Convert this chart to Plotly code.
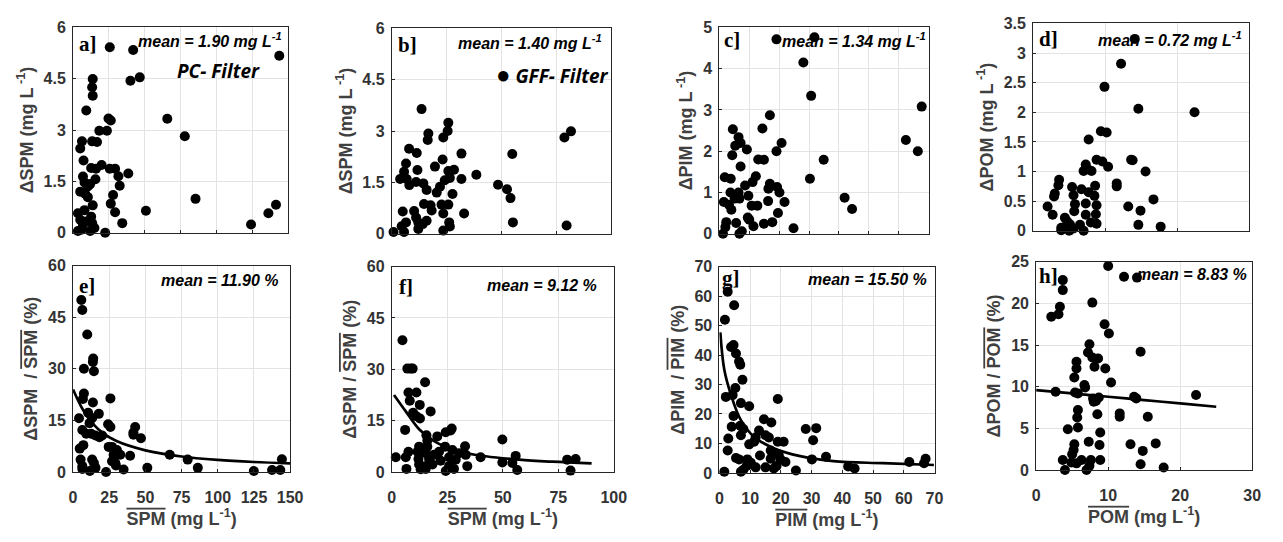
import plotly.graph_objects as go

W, H = 1283, 542

# ---------------- data ----------------
a_x = [25.6, 41.9, 143.8, 40, 46.5, 13.7, 13.3, 13.7, 9.2, 24.7, 26.3, 65.7, 77.9, 18.3, 23.6, 6.2, 5, 13.3, 16.7, 7.3,
       12.6, 19.9, 16, 25.6, 29.3, 31.6, 38.5, 6.9, 8, 11.9, 15.6, 10.3, 32.5, 5, 8.5, 10.3, 27.9, 85.4, 26.3, 136.2,
       141.5, 29.3, 50.8, 124.1, 34.3, 22.4, 3.4, 5, 3.4, 5.7, 8, 9.2, 11.9, 12.6, 13.3, 14.9, 6.9, 13.7]
a_y = [5.42, 5.34, 5.17, 4.44, 4.54, 4.49, 4.25, 4.0, 3.57, 3.34, 3.28, 3.33, 2.82, 2.98, 2.98, 2.67, 2.46, 2.67, 2.65, 2.11,
       1.89, 1.98, 1.87, 1.87, 1.87, 1.65, 1.73, 1.64, 1.47, 1.42, 1.56, 1.35, 1.37, 1.2, 1.13, 1.04, 1.1, 0.99, 0.85, 0.57,
       0.82, 0.6, 0.64, 0.24, 0.28, 0.0, 0.57, 0.38, 0.05, 0.09, 0.66, 0.33, 0.05, 0.47, 0.28, 0.14, 0.24, 0.8]

b_x = [13.6, 25.8, 25.5, 16.7, 16.4, 23.5, 78.8, 81.8, 7.9, 11.4, 6.5, 23.2, 31.8, 55, 19.7, 11.7, 5.6, 3.8, 6.8, 8.0,
       11.1, 14.4, 15.9, 25.8, 28.4, 26.5, 31.8, 38.6, 48.5, 52.6, 54.2, 20.5, 22, 24.2, 27.7, 14.7, 18.2, 17.7, 22.7, 25.8,
       23.5, 33, 5, 10.2, 11.1, 6.5, 5.6, 0.8, 12.1, 14.1, 12.1, 15.9, 23.5, 26.2, 26.5, 55.3, 79.8, 4.5]
b_y = [3.64, 3.24, 3.0, 2.93, 2.74, 2.81, 2.81, 2.99, 2.48, 2.36, 2.05, 2.17, 2.34, 2.33, 1.96, 1.86, 1.81, 1.6, 1.6, 1.42,
       1.51, 1.47, 1.28, 1.83, 1.87, 1.63, 1.6, 1.72, 1.43, 1.3, 1.04, 1.2, 1.37, 1.56, 1.16, 0.87, 0.68, 0.83, 0.85, 0.85,
       0.59, 0.59, 0.65, 0.66, 0.47, 0.33, 0.05, 0.05, 0.33, 0.28, 0.14, 0.38, 0.09, 0.33, 0.21, 0.33, 0.24, 0.22]

c_x = [19.1, 31.8, 28.1, 30.7, 67.7, 62.4, 66.4, 16.9, 14.4, 4.5, 6.4, 7.1, 5.3, 9.2, 20.8, 19.1, 4.3, 7.1, 13, 14.9,
       34.9, 1.8, 3.8, 12.2, 11.1, 8.6, 30.3, 16.9, 16.4, 19.3, 20.1, 3.7, 6.4, 9.7, 5.1, 1.5, 3.2, 4.0, 6.7, 16.3,
       21.8, 10.8, 12.7, 41.9, 44.4, 19.6, 9.5, 10, 11.4, 14.9, 17.7, 2.3, 2, 5.6, 1.2, 6.7, 7.5, 24.8]
c_y = [4.71, 4.76, 4.15, 3.34, 3.08, 2.27, 2.0, 2.87, 2.55, 2.53, 2.34, 2.2, 2.13, 2.04, 2.2, 2.0, 1.9, 1.63, 1.8, 1.79,
       1.79, 1.37, 1.33, 1.39, 1.25, 1.17, 1.33, 1.21, 1.09, 1.13, 1.0, 1.0, 1.0, 0.92, 0.85, 0.77, 0.7, 0.58, 0.85, 0.79,
       0.77, 0.68, 0.68, 0.87, 0.6, 0.5, 0.39, 0.34, 0.18, 0.24, 0.28, 0.28, 0.16, 0.26, 0.0, 0.0, 0.06, 0.13]

d_x = [14.1, 12.2, 9.9, 14.6, 22.4, 9.4, 10.2, 7.7, 8.8, 9.6, 10.4, 13.6, 13.8, 15.6, 7.3, 7.6, 7.0, 8.1, 11.6, 11.6,
       3.6, 3.5, 3.0, 2.9, 2.0, 2.7, 5.4, 5.6, 6.7, 7.7, 8.6, 8.5, 5.8, 5.7, 7.3, 8.8, 8.7, 8.8, 13.2, 14.9,
       16.7, 14.6, 17.7, 4.4, 3.9, 3.9, 5.1, 5.6, 6.5, 7.0, 7.3, 8.0, 5.0, 4.7]
d_y = [3.24, 2.82, 2.43, 2.06, 2.0, 1.68, 1.66, 1.54, 1.2, 1.17, 1.08, 1.2, 1.19, 1.0, 1.12, 1.04, 1.01, 1.01, 0.8, 0.75,
       0.86, 0.77, 0.63, 0.58, 0.41, 0.27, 0.74, 0.6, 0.7, 0.65, 0.76, 0.59, 0.45, 0.33, 0.46, 0.43, 0.28, 0.12, 0.41, 0.34,
       0.53, 0.1, 0.07, 0.22, 0.05, 0.01, 0.11, 0.04, 0.1, 0.0, 0.27, 0.14, 0.0, 0.16]

e_x = [5.7, 6.4, 9.8, 13.9, 13.7, 14.4, 7.5, 7.5, 6.8, 25.8, 13.7, 10.4, 17.8, 13.2, 4.1, 11.4, 24.2, 25.8, 42.9, 41.7,
       41.7, 46.9, 6.4, 9.1, 12.5, 15.5, 18.2, 20.1, 7.1, 4.6, 24.6, 26.9, 30.3, 32.6, 28.0, 66.8, 39.4, 79.2, 144.3, 5.2,
       13.2, 14.4, 26.9, 29.2, 29.6, 6.4, 11.6, 15.5, 22.8, 34.9, 51.3, 86.2, 124.9, 137.5, 143.2, 6.4]
e_y = [50, 47.1, 40, 33.0, 32, 29.3, 30, 22.8, 21.2, 21.4, 20.2, 17.2, 16.9, 15.7, 15.6, 14.2, 13.9, 13.1, 13.1, 11.5,
       10.8, 9.8, 12.2, 11.1, 11.1, 10.6, 10.1, 10.6, 7.8, 6.8, 7.3, 7.3, 6.4, 5.0, 5.0, 5.0, 4.7, 3.6, 3.7, 3.6,
       3.6, 2.6, 3.1, 2.6, 1.9, 0.9, 0.3, 1.2, 0.0, 0.7, 1.2, 1.2, 0.3, 0.6, 0.6, 1.7]
e_fit_x = [0, 5, 10, 20, 30, 50, 75, 100, 125, 150]
e_fit_y = [24, 19.5, 16, 11.5, 9, 6.3, 4.5, 3.5, 2.9, 2.5]

f_x = [4.8, 7, 8.5, 9.4, 15, 7.5, 11.1, 8.1, 12.6, 9.6, 17.5, 11.1, 12.7, 6, 26.5, 24.3, 27, 15.6, 20.5, 16,
       49.8, 16, 33, 12.3, 24, 21.3, 7.5, 11.6, 15.3, 19, 27.3, 30.3, 33.3, 40, 55.8, 1.8, 6.3, 12, 16.8, 22,
       25.8, 28.8, 79, 82.8, 49.8, 54.3, 12.3, 15, 18.3, 34, 6.6, 13, 15.3, 24.3, 28, 56.5, 80.5, 25.8]
f_y = [38.5, 30.2, 30.2, 30.2, 26.2, 23.2, 23.2, 20.8, 19.6, 17.3, 17.7, 16.3, 15.6, 12.3, 12.1, 11.6, 12.7, 10.7, 10.4, 9.1,
       9.5, 7.4, 7.5, 7.4, 7.4, 5.9, 5.9, 5.9, 5.5, 5, 6.4, 5.5, 5.0, 4.3, 4.7, 4.3, 4.3, 3.8, 3.8, 3.3,
       4.3, 3.6, 3.6, 3.8, 2.8, 2.6, 2.2, 1.7, 2.2, 1.7, 0.9, 0.8, 0.9, 0.3, 0.9, 0.6, 0.4, 1.7]
f_fit_x = [1, 6.3, 12.3, 19.8, 30.3, 42.3, 57.3, 72.3, 90]
f_fit_y = [22.5, 17.7, 12.5, 8.7, 6.0, 4.6, 3.6, 3.0, 2.5]

g_x = [2.7, 1.8, 4.8, 3.8, 4.6, 5.4, 6.4, 6.8, 7.5, 2.1, 4.3, 5.2, 7, 9.7, 19, 4.6, 4.0, 6.8, 7.8, 7.0,
       14.5, 16.9, 12.9, 15, 16.1, 9.7, 11.3, 11.8, 2.9, 2.7, 5.4, 6.4, 9.1, 10.2, 11.8, 13.2, 15, 16.7, 17.2, 16.7,
       19, 20.9, 19.3, 19.9, 21.5, 18.6, 17.7, 24.9, 28.1, 31.5, 30.5, 30.1, 34.7, 41.9, 44, 61.8, 66.6, 67.1, 1.6, 7,
       7.8, 8.9]
g_y = [61.5, 52, 56.9, 42.7, 43.4, 40.5, 37.8, 36.7, 31.6, 25.8, 26.4, 28.8, 23.7, 22.6, 25.1, 19.3, 15.7, 16, 14.9, 12.8,
       18.2, 17.1, 14.4, 12.8, 12.0, 9.7, 10.6, 12.0, 11.7, 7.6, 5.1, 4.6, 4.6, 3.5, 1.9, 5.9, 1.9, 7.6, 6.8, 4.8,
       10.6, 10.6, 6.2, 4.6, 3.7, 2.4, 1.5, 0.8, 14.9, 15.2, 11.1, 4.6, 5.5, 2.2, 1.5, 3.7, 3.3, 4.8, 0.4, 0.4,
       1.1, 2.4]
g_fit_x = [0.3, 1.6, 3.8, 7, 11.3, 17.7, 26.3, 37.1, 53.2, 69.8]
g_fit_y = [47.7, 35, 26.4, 17.9, 12.2, 8.4, 5.7, 4.0, 3.3, 2.7]

h_x = [10, 12.2, 14, 3.7, 3.7, 3.3, 3.1, 2.1, 7.8, 9.5, 10.1, 7.4, 7.2, 14.5, 7.8, 8.6, 5.6, 5.6, 8.1, 9.6,
       5.3, 10.4, 6.7, 6.8, 2.7, 5.4, 5.8, 22.2, 7.9, 8.7, 8.3, 8.0, 13.6, 13.9, 5.8, 5.7, 8.5, 11.6, 11.6, 15.5,
       5.8, 4.4, 8.9, 7.3, 8.8, 13.1, 16.6, 14.8, 5.3, 5.2, 5.0, 3.7, 4.9, 5.6, 6.3, 7.6, 7.4, 8.9, 14.5, 17.7,
       4.0, 7.0]
h_y = [24.5, 23.2, 23.1, 22.8, 21.6, 19.6, 18.7, 18.4, 20.1, 17.5, 16.4, 15.1, 14.1, 14.2, 13.5, 13.4, 13, 12.2, 12.4, 12.2,
       11.1, 10.5, 10.2, 9.9, 9.4, 9.3, 9.2, 9.0, 8.6, 8.7, 8.3, 8.2, 8.8, 8.6, 7.2, 6.3, 6.7, 6.8, 6.4, 6.4,
       5.1, 4.9, 4.5, 3.4, 3.0, 3.1, 3.2, 2.3, 3.1, 2.4, 1.9, 1.2, 0.9, 0.8, 1.2, 1.2, 0.5, 1.2, 0.7, 0.3,
       0.0, 0.0]
h_fit_x = [0, 5, 10, 15, 20, 25]
h_fit_y = [9.6, 9.2, 8.8, 8.4, 8.0, 7.6]

# ---------------- panel settings ----------------
OV = '<span style="text-decoration:overline">%s</span>'
panels = [
    dict(key='a', x=a_x, y=a_y, box=(70, 288, 20, 232), xr=[0, 150], xd=25, yr=[0, 6], yt=[0, 1.5, 3, 4.5, 6],
         ytl=['0', '1.5', '3', '4.5', '6'], ytitle='ΔSPM (mg L<sup> -1</sup>)', xtitle=None,
         mean='mean = 1.90 mg L<sup>-1</sup>', mx=284, my=33, lx=74, ly=37),
    dict(key='b', x=b_x, y=b_y, box=(393, 615, 21, 233), xr=[0, 100], xd=25, yr=[0, 6], yt=[0, 1.5, 3, 4.5, 6],
         ytl=['0', '1.5', '3', '4.5', '6'], ytitle='ΔSPM (mg L<sup> -1</sup>)', xtitle=None,
         mean='mean = 1.40 mg L<sup>-1</sup>', mx=608, my=35, lx=397, ly=38),
    dict(key='c', x=c_x, y=c_y, box=(725, 937, 20, 233), xr=[0, 70], xd=10, yr=[0, 5], yt=[0, 1, 2, 3, 4, 5],
         ytl=['0', '1', '2', '3', '4', '5'], ytitle='ΔPIM (mg L<sup> -1</sup>)', xtitle=None,
         mean='mean = 1.34 mg L<sup>-1</sup>', mx=936, my=33, lx=728, ly=33),
    dict(key='d', x=d_x, y=d_y, box=(1043, 1262, 16, 230), xr=[0, 30], xd=10, yr=[0, 3.5],
         yt=[0, 0.5, 1, 1.5, 2, 2.5, 3, 3.5], ytl=['0', '0.5', '1', '1.5', '2', '2.5', '3', '3.5'],
         ytitle='ΔPOM (mg L<sup> -1</sup>)', xtitle=None,
         mean='mean = 0.72 mg L<sup>-1</sup>', mx=1257, my=32, lx=1047, ly=32),
    dict(key='e', x=e_x, y=e_y, box=(70, 290, 266, 479), xr=[0, 150], xd=25, yr=[0, 60], yt=[0, 15, 30, 45, 60],
         ytl=['0', '15', '30', '45', '60'], ytitle='ΔSPM  / ' + OV % 'SPM' + ' (%)',
         xtitle=OV % 'SPM' + ' (mg L<sup>-1</sup>)', fx=e_fit_x, fy=e_fit_y,
         mean='mean = 11.90 %', mx=281, my=281, lx=74, ly=287),
    dict(key='f', x=f_x, y=f_y, box=(393, 618, 267, 479), xr=[0, 100], xd=25, yr=[0, 60], yt=[0, 15, 30, 45, 60],
         ytl=['0', '15', '30', '45', '60'], ytitle='ΔSPM / ' + OV % 'SPM' + ' (%)',
         xtitle=OV % 'SPM' + ' (mg L<sup>-1</sup>)', fx=f_fit_x, fy=f_fit_y,
         mean='mean = 9.12 %', mx=603, my=286, lx=398, ly=288),
    dict(key='g', x=g_x, y=g_y, box=(725, 943, 267, 480), xr=[0, 70], xd=10, yr=[0, 70],
         yt=[0, 10, 20, 30, 40, 50, 60, 70], ytl=['0', '10', '20', '30', '40', '50', '60', '70'],
         ytitle='ΔPIM  / ' + OV % 'PIM' + ' (%)',
         xtitle=OV % 'PIM' + ' (mg L<sup>-1</sup>)', fx=g_fit_x, fy=g_fit_y,
         mean='mean = 15.50 %', mx=937, my=280, lx=726, ly=279),
    dict(key='h', x=h_x, y=h_y, box=(1046, 1265, 262, 477), xr=[0, 30], xd=10, yr=[0, 25],
         yt=[0, 5, 10, 15, 20, 25], ytl=['0', '5', '10', '15', '20', '25'],
         ytitle='ΔPOM / ' + OV % 'POM' + ' (%)',
         xtitle=OV % 'POM' + ' (mg L<sup>-1</sup>)', fx=h_fit_x, fy=h_fit_y,
         mean='mean = 8.83 %', mx=1262, my=275, lx=1047, ly=277),
]

TICKC = '#333333'
TITC = '#404040'
GRID = '#e3e3e3'
LINE = '#262626'
SANS = 'Liberation Sans, Arial'

fig = go.Figure()
annotations = []
for i, p in enumerate(panels):
    n = '' if i == 0 else str(i + 1)
    xa, ya = 'x' + n, 'y' + n
    x0, x1, y0, y1 = p['box']
    fig.add_trace(go.Scatter(x=p['x'], y=p['y'], mode='markers', xaxis=xa, yaxis=ya,
                             marker=dict(color='black', size=10, line=dict(width=0)),
                             showlegend=False, cliponaxis=False))
    if 'fx' in p:
        fig.add_trace(go.Scatter(x=p['fx'], y=p['fy'], mode='lines', xaxis=xa, yaxis=ya,
                                 line=dict(color='black', width=2.7, shape='spline', smoothing=1.0),
                                 showlegend=False))
    top = p['xtitle'] is None
    fig.layout['xaxis' + n] = dict(
        domain=[x0 / W, x1 / W], anchor=ya, range=p['xr'], dtick=p['xd'], tick0=0,
        showgrid=True, gridcolor=GRID, gridwidth=1, zeroline=False,
        showline=True, mirror=True, linecolor=LINE, linewidth=1,
        ticks='inside', ticklen=3, tickcolor=LINE,
        showticklabels=not top, ticklabelstandoff=11,
        tickfont=dict(family=SANS, size=16, color=TICKC, weight='bold'),
        title=None if top else dict(text=p['xtitle'], standoff=6,
                                    font=dict(family=SANS, size=18, color=TITC, weight='bold')),
    )
    fig.layout['yaxis' + n] = dict(
        domain=[1 - y1 / H, 1 - y0 / H], anchor=xa, range=p['yr'], tickvals=p['yt'], ticktext=p['ytl'],
        showgrid=True, gridcolor=GRID, gridwidth=1, zeroline=False,
        showline=True, mirror=True, linecolor=LINE, linewidth=1,
        ticks='inside', ticklen=3, tickcolor=LINE, ticklabelstandoff=3,
        tickfont=dict(family=SANS, size=16, color=TICKC, weight='bold'),
        title=dict(text=p['ytitle'], standoff=5,
                   font=dict(family=SANS, size=18, color=TITC, weight='bold')),
    )
    annotations.append(dict(x=p['mx'] / W, y=1 - p['my'] / H, xref='paper', yref='paper',
                            xanchor='right', yanchor='middle', showarrow=False,
                            text='<b><i>' + p['mean'] + '</i></b>',
                            font=dict(family=SANS, size=16, color='black')))
    annotations.append(dict(x=p['lx'] / W, y=1 - p['ly'] / H, xref='paper', yref='paper',
                            xanchor='left', yanchor='middle', showarrow=False,
                            text='<b>' + p['key'] + ']</b>',
                            font=dict(family='Liberation Serif, Times New Roman', size=21, color='black')))

annotations.append(dict(x=217 / W, y=1 - 65 / H, xref='paper', yref='paper', xanchor='center', yanchor='middle',
                        showarrow=False, text='<b><i>PC- Filter</i></b>',
                        font=dict(family='Open Sans', size=19, color='black')))
annotations.append(dict(x=497 / W, y=1 - 68 / H, xref='paper', yref='paper', xanchor='left', yanchor='middle',
                        showarrow=False, text='<span style="font-size:24px">●</span> <b><i>GFF- Filter</i></b>',
                        font=dict(family='Open Sans', size=19, color='black')))

fig.update_layout(width=W, height=H, margin=dict(l=0, r=0, t=0, b=0),
                  paper_bgcolor='white', plot_bgcolor='white', annotations=annotations, showlegend=False)
fig.write_html('out.html')
